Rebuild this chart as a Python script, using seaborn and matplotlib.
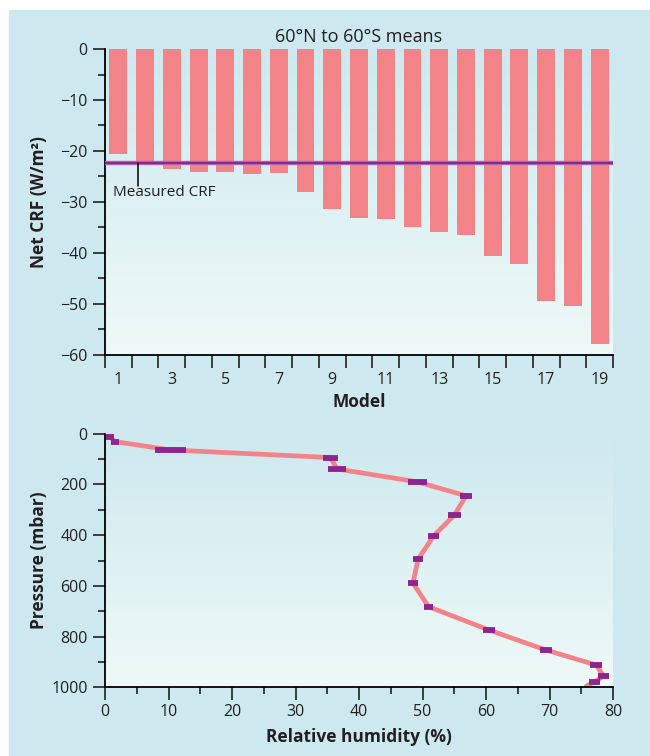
import numpy as np
import pandas as pd
import matplotlib
matplotlib.use("Agg")
import matplotlib.pyplot as plt
import seaborn as sns
from matplotlib.colors import LinearSegmentedColormap
from matplotlib.patches import Rectangle
from matplotlib.ticker import MultipleLocator

# ---- data: top panel (net cloud radiative forcing per model) ----
models = list(range(1, 20))
net_crf = [-20.5, -22.2, -23.5, -24.1, -24.1, -24.5, -24.3, -28.0, -31.4, -33.1,
           -33.3, -34.9, -35.9, -36.5, -40.6, -42.2, -49.4, -50.4, -57.8]
measured_crf = -22.3

# ---- data: bottom panel (relative humidity profile) ----
pressure = [12, 31, 64, 94, 139, 190, 245, 320, 403, 495, 589, 682, 774, 853, 912, 955, 979]
rh_low = [0.2, 0.9, 7.9, 34.3, 35.1, 47.7, 55.9, 54.0, 50.9, 48.5, 47.7, 50.2, 59.5, 68.5, 76.4, 77.6, 76.2]
rh_high = [1.4, 2.2, 12.7, 36.7, 38.0, 50.7, 57.8, 56.1, 52.6, 50.1, 49.3, 51.7, 61.4, 70.4, 78.3, 79.4, 78.0]
surface_rh = 75.8
surface_p = 995

bar_color = "#F28389"
purple = "#8E2490"
text_color = "#231F20"
bg_color = "#CDE9EF"
grad_bottom = "#EFF9F7"

sns.set_theme(style="white")
plt.rcParams["font.family"] = ["Open Sans", "DejaVu Sans"]
plt.rcParams["text.color"] = text_color
plt.rcParams["axes.labelcolor"] = text_color
plt.rcParams["xtick.color"] = text_color
plt.rcParams["ytick.color"] = text_color

fig = plt.figure(figsize=(6.5, 7.56), dpi=100)
fig.patch.set_facecolor("white")
fig.add_artist(Rectangle((9 / 650, 0), 1, 1 - 10 / 756, transform=fig.transFigure,
                         color=bg_color, zorder=-10))

ax1 = fig.add_axes([105 / 650, 1 - 355 / 756, 508 / 650, 306 / 756])
ax2 = fig.add_axes([105 / 650, 1 - 687.3 / 756, 508 / 650, 253.6 / 756])

grad_cmap = LinearSegmentedColormap.from_list("bg", [grad_bottom, bg_color])
gradient = np.linspace(0, 1, 256).reshape(-1, 1)


def style_axes(ax):
    ax.set_facecolor("none")
    ax.imshow(gradient, cmap=grad_cmap, extent=[0, 1, 0, 1], transform=ax.transAxes,
              aspect="auto", origin="lower", zorder=-5)
    for side in ["top", "right"]:
        ax.spines[side].set_visible(False)
    for side in ["left", "bottom"]:
        ax.spines[side].set_color("black")
        ax.spines[side].set_linewidth(1.3)
    ax.tick_params(which="major", direction="out", length=9, width=1.2,
                   labelsize=11.5, bottom=True, left=True)
    ax.tick_params(which="minor", direction="out", length=5, width=1.2,
                   bottom=True, left=True)


# ---- top panel ----
df_crf = pd.DataFrame({"model": [str(m) for m in models], "crf": net_crf})
style_axes(ax1)
sns.barplot(data=df_crf, x="model", y="crf", color=bar_color, saturation=1,
            width=0.67, ax=ax1, zorder=2, edgecolor="none", linewidth=0)
ax1.axhline(measured_crf, color="#B070B2", lw=3.2, zorder=3)
ax1.axhline(measured_crf, color=purple, lw=1.6, zorder=4)
ax1.plot([0.72, 0.72], [measured_crf, -26.9], color="black", lw=1.1, zorder=4)
ax1.text(-0.2, -28.2, "Measured CRF", fontsize=11, va="center", ha="left", zorder=5)
ax1.set_xlim(-0.5, 18.5)
ax1.set_ylim(-60, 0)
ax1.set_xticks(np.arange(-0.5, 19, 1))
ax1.set_xticklabels([])
ax1.set_xticks(np.arange(0, 19, 2), [str(m) for m in models[::2]], minor=True)
ax1.tick_params(axis="x", which="minor", length=0, labelsize=11.5, pad=12)
ax1.yaxis.set_major_locator(MultipleLocator(10))
ax1.yaxis.set_minor_locator(MultipleLocator(5))
ax1.set_xlabel("Model", fontsize=12.5, fontweight="bold", labelpad=4)
ax1.set_ylabel("Net CRF (W/m²)", fontsize=12.5, fontweight="bold")
ax1.yaxis.set_label_coords(-0.113, 0.5)
ax1.set_title("60°N to 60°S means", fontsize=13, pad=5)

# ---- bottom panel ----
rh_mid = [(lo + hi) / 2 for lo, hi in zip(rh_low, rh_high)]
df_rh = pd.DataFrame({"rh": rh_mid + [surface_rh], "p": pressure + [surface_p]})
style_axes(ax2)
sns.lineplot(data=df_rh, x="rh", y="p", sort=False, color=bar_color, lw=3.4,
             ax=ax2, zorder=2, estimator=None)
ax2.hlines(pressure, rh_low, rh_high, color=purple, lw=4.2, zorder=3)
ax2.set_xlim(0, 80)
ax2.set_ylim(1000, 0)
ax2.xaxis.set_major_locator(MultipleLocator(10))
ax2.xaxis.set_minor_locator(MultipleLocator(5))
ax2.yaxis.set_major_locator(MultipleLocator(200))
ax2.yaxis.set_minor_locator(MultipleLocator(100))
ax2.tick_params(axis="x", which="major", pad=3)
ax2.set_xlabel("Relative humidity (%)", fontsize=12.5, fontweight="bold", labelpad=6)
ax2.set_ylabel("Pressure (mbar)", fontsize=12.5, fontweight="bold")
ax2.yaxis.set_label_coords(-0.113, 0.5)

fig.savefig("out.png", dpi=100)
